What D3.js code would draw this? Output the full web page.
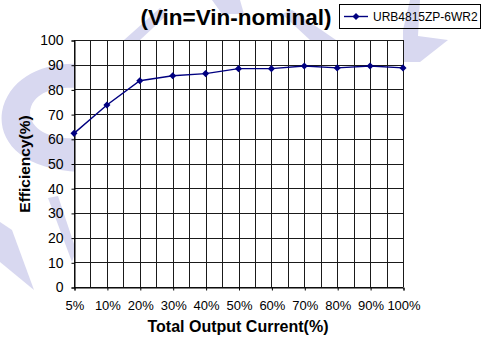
<!DOCTYPE html>
<html><head><meta charset="utf-8">
<script src="https://cdn.jsdelivr.net/npm/d3@7/dist/d3.min.js"></script>
<style>body{margin:0;background:#fff}svg{display:block}text{font-family:"Liberation Sans",Arial,sans-serif}</style>
</head><body><svg id="c" width="490" height="341"></svg>
<script>
const categories = ["5%","10%","20%","30%","40%","50%","60%","70%","80%","90%","100%"];
const efficiency = [62.2,73.7,83.5,85.5,86.4,88.4,88.4,89.5,88.7,89.5,88.7];
const yTicks = [0,10,20,30,40,50,60,70,80,90,100];
const seriesName = "URB4815ZP-6WR2";
const titleText = "(Vin=Vin-nominal)";
const xTitle = "Total Output Current(%)";
const yTitle = "Efficiency(%)";

const svg = d3.select("#c");
const L=74,R=403,T=40,B=287;
const x = d3.scalePoint().domain(categories).range([L,R]);
const y = d3.scaleLinear().domain([0,100]).range([B,T]);

// watermark
const wm = "#d8d8f0";
const wg = svg.append("g").attr("fill",wm).attr("stroke","none");
wg.append("path").attr("d","M80,64 C40,62 8,80 2,112 C-2,140 20,170 80,172 L80,138 C55,140 30,132 30,112 C32,92 55,86 80,88 Z");
wg.append("path").attr("d","M48,198 L58,196 L76,250 L72,262 Z");
wg.append("path").attr("d","M0,222 L12,230 L34,290 L0,262 Z");
wg.append("path").attr("d","M160,8 L168,14 L140,40 L124,40 Z");
wg.append("path").attr("d","M212,0 L240,0 L244,14 L222,14 Z");
wg.append("path").attr("d","M282,14 L292,10 L336,40 L310,40 Z");
wg.append("path").attr("d","M410,0 L420,0 L418,36 L448,40 L420,62 L403,62 L403,30 Z");

// plot background
svg.append("rect").attr("x",L).attr("y",T).attr("width",R-L).attr("height",B-T).attr("fill","#fff");

// grid
const g = svg.append("g");
const step = x.step();
const vlines = [];
categories.forEach((c,i)=>{ vlines.push(x(c)); if(i<categories.length-1) vlines.push(x(c)+step/2); });
g.selectAll(".vl").data(vlines).join("line").attr("class","vl")
  .attr("x1",d=>Math.round(d)+0.5).attr("x2",d=>Math.round(d)+0.5).attr("y1",T).attr("y2",B)
  .attr("stroke","#1a1a1a").attr("stroke-width",1);
g.selectAll(".hl").data(yTicks).join("line").attr("class","hl")
  .attr("x1",L).attr("x2",R).attr("y1",d=>Math.round(y(d))+0.5).attr("y2",d=>Math.round(y(d))+0.5)
  .attr("stroke","#1a1a1a").attr("stroke-width",1);

// axes
const yAxis = d3.axisLeft(y).tickValues(yTicks).tickSize(3).tickPadding(8);
const ya = svg.append("g").attr("transform",`translate(${L+0.5},0.5)`).call(yAxis);
ya.selectAll("text").attr("font-size",14).attr("fill","#000").attr("font-family","Liberation Sans, Arial, sans-serif");
ya.select(".domain").attr("stroke","#000");
ya.selectAll(".tick line").attr("stroke","#000");

const xAxis = d3.axisBottom(x).tickSize(3).tickPadding(10);
const xa = svg.append("g").attr("transform",`translate(0.5,${B+0.5})`).call(xAxis);
xa.selectAll("text").attr("font-size",13).attr("fill","#000").attr("font-family","Liberation Sans, Arial, sans-serif");
xa.select(".domain").attr("stroke","#000");
xa.selectAll(".tick line").attr("stroke","#000");

// series
const navy = "#000080";
const line = d3.line().x((d,i)=>x(categories[i])).y(d=>y(d));
svg.append("path").datum(efficiency).attr("d",line).attr("fill","none").attr("stroke",navy).attr("stroke-width",1.4);
const diamond = d3.symbol().type(d3.symbolDiamond2).size(32);
svg.selectAll(".pt").data(efficiency).join("path").attr("class","pt")
  .attr("transform",(d,i)=>`translate(${x(categories[i])},${y(d)})`).attr("d",diamond).attr("fill",navy);

// titles
svg.append("text").attr("x",236).attr("y",25).attr("text-anchor","middle").attr("font-size",22.5).attr("font-weight","bold").text(titleText);
svg.append("text").attr("x",238).attr("y",332).attr("text-anchor","middle").attr("font-size",16).attr("font-weight","bold").text(xTitle);
svg.append("text").attr("transform","rotate(-90)").attr("x",-164).attr("y",30).attr("text-anchor","middle").attr("font-size",15.5).attr("font-weight","bold").text(yTitle);

// legend
const lg = svg.append("g");
lg.append("rect").attr("x",339.5).attr("y",4.5).attr("width",141).attr("height",24).attr("fill","none").attr("stroke","#000");
lg.append("line").attr("x1",344).attr("x2",368).attr("y1",16.5).attr("y2",16.5).attr("stroke",navy).attr("stroke-width",1.4);
lg.append("path").attr("transform","translate(356,16.5)").attr("d",diamond).attr("fill",navy);
lg.append("text").attr("x",373).attr("y",21).attr("font-size",12).text(seriesName);
</script></body></html>
